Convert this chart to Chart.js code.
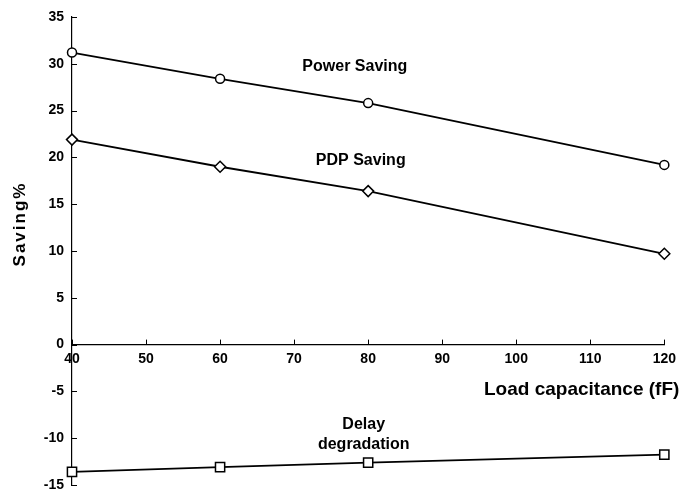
<!DOCTYPE html>
<html>
  <head>
    <title>Saving vs Load capacitance</title>
    <script src="https://cdn.jsdelivr.net/npm/chart.js"></script>
    <style>
      html, body { margin: 0; padding: 0; background: #fff; }
      #wrap { width: 682px; height: 494px; }
    </style>
  </head>
  <body>
    <div id="wrap"><canvas id="grafico"></canvas></div>

    <script>
      // dados
      const capacitancia = [40, 60, 80, 120];
      const powerSaving = [31.2, 28.4, 25.8, 19.2];
      const pdpSaving = [21.9, 19.0, 16.4, 9.7];
      const delayDegradation = [-13.6, -13.1, -12.6, -11.75];
      const ticksY = [-15, -10, -5, 0, 5, 10, 15, 20, 25, 30, 35];
      const ticksX = [40, 50, 60, 70, 80, 90, 100, 110, 120];

      // textos sobre as curvas (em coordenadas de dados)
      const rotulos = [
        { text: ['Power Saving'], x: 78.2, y: 29.65 },
        { text: ['PDP Saving'], x: 79.0, y: 19.7 },
        { text: ['Delay', 'degradation'], x: 79.4, y: -8.5 }
      ];
      const tituloX = 'Load capacitance (fF)';
      const tituloY = 'Saving%';

      const fonte = 'Liberation Sans, Arial, Helvetica, sans-serif';

      const pontos = (ys) => capacitancia.map((x, i) => ({ x: x, y: ys[i] }));

      // marcas de escala para dentro, títulos e textos
      const extras = {
        id: 'extras',
        afterDraw(chart) {
          const { ctx, chartArea, scales: { x, y } } = chart;
          const x0 = x.getPixelForValue(40);
          const y0 = y.getPixelForValue(0);
          ctx.save();
          ctx.strokeStyle = '#000';
          ctx.lineWidth = 1;
          ctx.beginPath();
          ticksY.forEach(v => {
            const py = Math.round(y.getPixelForValue(v)) + 0.5;
            ctx.moveTo(x0, py);
            ctx.lineTo(x0 + 5, py);
          });
          ticksX.forEach(v => {
            const px = Math.round(x.getPixelForValue(v)) + 0.5;
            ctx.moveTo(px, y0);
            ctx.lineTo(px, y0 - 5);
          });
          ctx.stroke();

          ctx.fillStyle = '#000';
          ctx.font = 'bold 16px ' + fonte;
          ctx.textAlign = 'center';
          ctx.textBaseline = 'middle';
          rotulos.forEach(r => {
            const px = x.getPixelForValue(r.x);
            const py = y.getPixelForValue(r.y);
            r.text.forEach((t, i) => ctx.fillText(t, px, py + i * 20));
          });

          // título do eixo x, à direita logo abaixo dos rótulos
          ctx.font = 'bold 19px ' + fonte;
          ctx.textAlign = 'right';
          ctx.fillText(tituloX, chartArea.right + 15, y0 + 45);

          // título do eixo y, girado
          ctx.translate(20, 224);
          ctx.rotate(-Math.PI / 2);
          ctx.font = 'bold 17px ' + fonte;
          ctx.letterSpacing = '2px';
          ctx.textAlign = 'center';
          ctx.fillText(tituloY, 0, 0);
          ctx.restore();
        }
      };

      const estilo = {
        borderColor: '#000',
        borderWidth: 1.8,
        pointBackgroundColor: '#fff',
        pointBorderColor: '#000',
        pointBorderWidth: 1.5,
        fill: false,
        tension: 0,
        clip: false
      };

      new Chart(document.getElementById('grafico'), {
        type: 'line',
        data: {
          datasets: [
            Object.assign({ label: 'Power Saving', data: pontos(powerSaving), pointStyle: 'circle', pointRadius: 4.5 }, estilo),
            Object.assign({ label: 'PDP Saving', data: pontos(pdpSaving), pointStyle: 'rectRot', pointRadius: 5.5 }, estilo),
            Object.assign({ label: 'Delay degradation', data: pontos(delayDegradation), pointStyle: 'rect', pointRadius: 6.5 }, estilo)
          ]
        },
        options: {
          responsive: true,
          maintainAspectRatio: false,
          animation: false,
          layout: { padding: { top: 17, right: 16, bottom: 9, left: 0 } },
          plugins: {
            legend: { display: false },
            tooltip: { enabled: false }
          },
          scales: {
            x: {
              type: 'linear',
              position: { y: 0 },
              min: 40,
              max: 120,
              grid: { display: false, drawTicks: false },
              border: { display: true, color: '#000', width: 1.2 },
              ticks: {
                stepSize: 10,
                padding: 6,
                color: '#000',
                font: { family: fonte, size: 14, weight: 'bold' }
              }
            },
            y: {
              min: -15,
              max: 35,
              afterFit(scale) {
                scale.width = 72;
                scale.paddingTop = 0;
                scale.paddingBottom = 0;
              },
              grid: { display: false, drawTicks: false },
              border: { display: true, color: '#000', width: 1.2 },
              ticks: {
                stepSize: 5,
                padding: 8,
                color: '#000',
                font: { family: fonte, size: 14, weight: 'bold' }
              }
            }
          }
        },
        plugins: [extras]
      });
    </script>
  </body>
</html>
